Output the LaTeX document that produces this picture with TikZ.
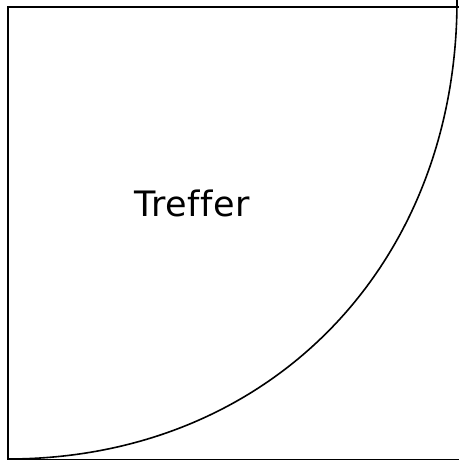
\documentclass[tikz,border=0pt]{standalone}
\usepackage{fontspec}
\setmainfont{DejaVu Sans}
\newfontfamily\lblfont[LetterSpace=2,Ligatures=NoCommon]{DejaVu Sans}
\usetikzlibrary{calc}

\begin{document}
\begin{tikzpicture}[x=1pt,y=1pt,
      frame/.style={draw=black,line width=2pt},
      hit/.style={draw=black,line width=1.6pt},
      lbl/.style={font=\lblfont\fontsize{35}{42}\selectfont,inner sep=0pt,anchor=base west}]
    \useasboundingbox (0,0) rectangle (458,460);
    % frame, right and bottom side sit on the page edge
    \coordinate (tl) at (8,453);
    \coordinate (br) at (463,-0.5);
    \draw[frame] (tl) rectangle (br);
    % the hit region boundary
    \coordinate (a0) at (457,460);
    \coordinate (a1) at (457,193.8);
    \coordinate (a2) at (268.4,1);
    \coordinate (a3) at (8,1);
    \draw[hit] (a0) .. controls (a1) and (a2) .. (a3);
    \node[lbl] (t) at (134,243){Treffer};
  \end{tikzpicture}
\end{document}
